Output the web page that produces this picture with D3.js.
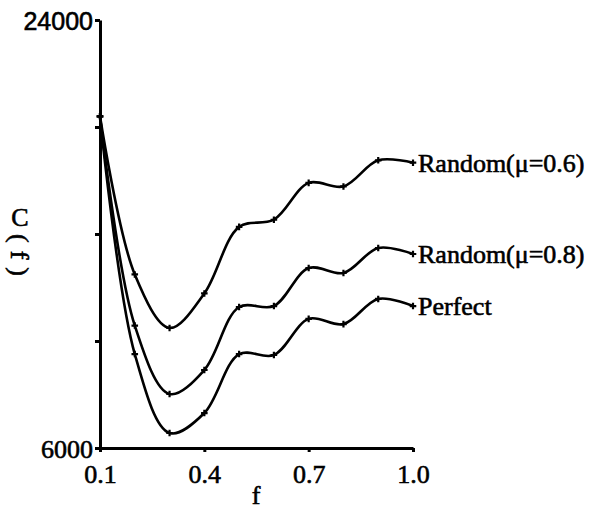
<!DOCTYPE html>
<html lang="en">

<head>
    <meta charset="utf-8">
    <title>C(f) vs f</title>
    <script src="https://d3js.org/d3.v7.min.js"></script>
    <style>
        body { margin: 0; background: #fff; }
        text { font-family: "Liberation Serif", "Times New Roman", serif; fill: #000; stroke: #000; stroke-width: 0.6px; }
    </style>
</head>

<body>
    <script type="text/javascript">

        var w = 597;
        var h = 510;

        var fValues = [0.1, 0.2, 0.3, 0.4, 0.5, 0.6, 0.7, 0.8, 0.9, 1.0];
        var random06 = [19950, 13300, 11050, 12500, 15300, 15600, 17150, 17000, 18100, 18000];
        var random08 = [19950, 11150, 8270, 9280, 11930, 11970, 13570, 13360, 14410, 14160];
        var perfect  = [19950, 9950, 6630, 7470, 9950, 9910, 11430, 11210, 12270, 11970];
        var seriesNames = ["Random(\u03bc=0.6)", "Random(\u03bc=0.8)", "Perfect"];
        var xTicks = [0.1, 0.4, 0.7, 1.0];
        var yTicks = [6000, 10500, 15000, 19500, 24000];

        var series = [random06, random08, perfect];

        var x = d3.scaleLinear().domain([0.1, 1.0]).range([100, 413]);
        var y = d3.scaleLinear().domain([6000, 24000]).range([448, 20]);

        var svg = d3.select("body")
            .append("svg")
            .attr("width", w)
            .attr("height", h);

        // axes
        var yAxis = svg.append("g")
            .attr("transform", "translate(" + x(0.1) + ",0)")
            .call(d3.axisLeft(y)
                .tickValues(yTicks)
                .tickSizeInner(5)
                .tickSizeOuter(0)
                .tickPadding(2)
                .tickFormat(function (d) { return (d == 6000 || d == 24000) ? d : ""; }));

        var xAxis = svg.append("g")
            .attr("transform", "translate(0," + y(6000) + ")")
            .call(d3.axisBottom(x)
                .tickValues(xTicks)
                .tickSizeInner(4)
                .tickSizeOuter(0)
                .tickPadding(12)
                .tickFormat(d3.format(".1f")));

        [xAxis, yAxis].forEach(function (g) {
            g.attr("font-family", null).attr("font-size", null);
            g.select(".domain").attr("stroke", "#000").attr("stroke-width", 3);
            g.selectAll(".tick line").attr("stroke", "#000").attr("stroke-width", 3);
            g.selectAll("text").style("font-size", "26px");
        });
        yAxis.selectAll("text").attr("dy", "0.36em");
        xAxis.selectAll("text").attr("dy", "0.72em");
        // the top label is set in a sans face in the original
        yAxis.selectAll(".tick text")
            .filter(function (d) { return d == 24000; })
            .style("font-family", "'Liberation Sans', Arial, sans-serif")
            .style("font-size", "25px");

        // axis titles
        svg.append("text")
            .attr("x", 256)
            .attr("y", 504)
            .attr("text-anchor", "middle")
            .style("font-size", "26px")
            .text("f");

        svg.append("text")
            .attr("x", 20)
            .attr("y", 226)
            .attr("text-anchor", "middle")
            .style("font-size", "26px")
            .text("C");
        svg.append("text")
            .attr("transform", "translate(11,234) rotate(90)")
            .attr("letter-spacing", 8)
            .style("font-size", "26px")
            .text("(f)");

        // curves
        var line = d3.line()
            .x(function (d, i) { return x(fValues[i]); })
            .y(function (d) { return y(d); })
            .curve(d3.curveCatmullRom.alpha(0.5));

        var groups = svg.selectAll("g.series")
            .data(series)
            .enter()
            .append("g")
            .attr("class", "series");

        groups.append("path")
            .attr("fill", "none")
            .attr("stroke", "#000")
            .attr("stroke-width", 2.6)
            .attr("d", line);

        var marker = d3.symbol().type(d3.symbolCross).size(24);

        groups.selectAll("path.pt")
            .data(function (d) { return d; })
            .enter()
            .append("path")
            .attr("class", "pt")
            .attr("d", marker)
            .attr("fill", "#000")
            .attr("transform", function (d, i) {
                return "translate(" + x(fValues[i]) + "," + y(d) + ")";
            });

        groups.append("text")
            .attr("x", x(1.0) + 5)
            .attr("y", function (d) { return y(d[d.length - 1]); })
            .attr("dy", "0.35em")
            .style("font-size", "26px")
            .text(function (d, i) { return seriesNames[i]; });

    </script>
</body>

</html>
